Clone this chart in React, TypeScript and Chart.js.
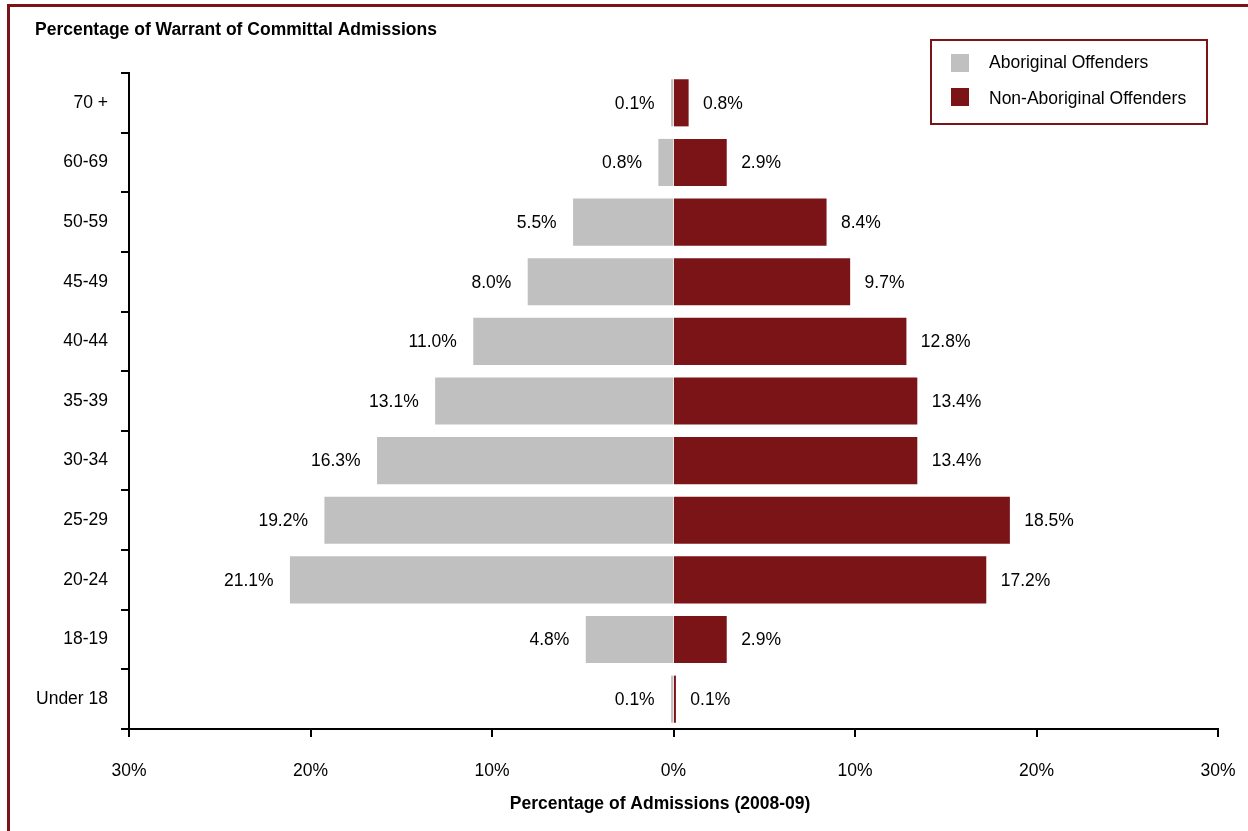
import React, { useEffect, useRef } from "react";
import { Chart, registerables } from "chart.js";

Chart.register(...registerables);

const ageGroups = ["70 +", "60-69", "50-59", "45-49", "40-44", "35-39", "30-34", "25-29", "20-24", "18-19", "Under 18"];
const aboriginal = [0.1, 0.8, 5.5, 8.0, 11.0, 13.1, 16.3, 19.2, 21.1, 4.8, 0.1];
const nonAboriginal = [0.8, 2.9, 8.4, 9.7, 12.8, 13.4, 13.4, 18.5, 17.2, 2.9, 0.1];
const xTicks = [-30, -20, -10, 0, 10, 20, 30];

const RED = "#7b1416";
const GREY = "#c0c0c0";
const FONT = "'Liberation Sans', Arial, sans-serif";
const TITLE = "Percentage of Warrant of Committal Admissions";
const X_TITLE = "Percentage of Admissions (2008-09)";

const overlayPlugin = {
  id: "overlay",
  afterDatasetsDraw(chart: any) {
    const ctx = chart.ctx;
    ctx.save();
    ctx.font = `17.5px ${FONT}`;
    ctx.fillStyle = "#000";
    ctx.textBaseline = "middle";
    chart.data.datasets.forEach((ds: any, di: number) => {
      const meta = chart.getDatasetMeta(di);
      meta.data.forEach((el: any, i: number) => {
        const v = Math.abs(ds.data[i]);
        const txt = v.toFixed(1) + "%";
        if (ds.data[i] < 0) {
          ctx.textAlign = "right";
          ctx.fillText(txt, el.x - 17, el.y + 1);
        } else {
          ctx.textAlign = "left";
          ctx.fillText(txt, el.x + 15, el.y + 1);
        }
      });
    });
    ctx.restore();
  },
  afterDraw(chart: any) {
    const ctx = chart.ctx;
    ctx.save();
    // main title
    ctx.font = `bold 17.5px ${FONT}`;
    ctx.fillStyle = "#000";
    ctx.textAlign = "left";
    ctx.textBaseline = "middle";
    ctx.fillText(TITLE, 35, 30);
    // x-axis title
    ctx.textAlign = "center";
    ctx.fillText(X_TITLE, 660, 804);
    // legend
    ctx.textAlign = "left";
    ctx.strokeStyle = RED;
    ctx.lineWidth = 2;
    ctx.strokeRect(931, 40, 276, 84);
    ctx.font = `17.5px ${FONT}`;
    const squareY = [54, 88];
    const textY = [63, 99];
    chart.data.datasets.forEach((ds: any, di: number) => {
      ctx.fillStyle = ds.backgroundColor;
      ctx.fillRect(951, squareY[di], 18, 18);
      ctx.fillStyle = "#000";
      ctx.fillText(ds.label, 989, textY[di]);
    });
    ctx.restore();
  },
};

export default function App() {
  const ref = useRef<HTMLCanvasElement>(null);
  useEffect(() => {
    if (!ref.current) return;
    const chart = new Chart(ref.current, {
      type: "bar",
      data: {
        labels: ageGroups,
        datasets: [
          {
            label: "Aboriginal Offenders",
            data: aboriginal.map((v) => -v),
            backgroundColor: GREY,
            borderWidth: 0,
            inflateAmount: 0.6,
            barPercentage: 0.77,
            categoryPercentage: 1,
          },
          {
            label: "Non-Aboriginal Offenders",
            data: nonAboriginal,
            backgroundColor: RED,
            borderWidth: 0,
            inflateAmount: 0.6,
            barPercentage: 0.77,
            categoryPercentage: 1,
          },
        ],
      },
      options: {
        indexAxis: "y",
        responsive: false,
        animation: false,
        devicePixelRatio: 1,
        layout: { padding: { top: 73, right: 30, left: 0, bottom: 0 } },
        plugins: {
          legend: { display: false },
          tooltip: { enabled: false },
          title: { display: false },
        },
        scales: {
          x: {
            type: "linear",
            stacked: true,
            min: -30,
            max: 30,
            afterBuildTicks: (s: any) => {
              s.ticks = xTicks.map((v) => ({ value: v }));
            },
            afterFit: (s: any) => {
              s.height = 102;
              s.paddingLeft = 0;
              s.paddingRight = 0;
            },
            ticks: {
              callback: (v: any) => Math.abs(Number(v)) + "%",
              font: { family: FONT, size: 17.5 },
              color: "#000",
              padding: 24,
              maxRotation: 0,
            },
            grid: {
              drawOnChartArea: false,
              drawTicks: true,
              tickLength: 8,
              color: "#000",
              lineWidth: 2,
            },
            border: { display: true, color: "#000", width: 2 },
            title: { display: false },
          },
          y: {
            type: "category",
            stacked: true,
            afterFit: (s: any) => {
              s.width = 129;
              s.paddingTop = 0;
              s.paddingBottom = 0;
            },
            ticks: {
              font: { family: FONT, size: 17.5 },
              color: "#000",
              padding: 13,
            },
            grid: {
              drawOnChartArea: false,
              drawTicks: true,
              tickLength: 8,
              color: "#000",
              lineWidth: 2,
              offset: true,
            },
            border: { display: true, color: "#000", width: 2 },
          },
        },
      },
      plugins: [overlayPlugin],
    } as any);
    return () => chart.destroy();
  }, []);

  return (
    <div
      style={{
        position: "fixed",
        left: 0,
        top: 0,
        width: 1248,
        height: 831,
        overflow: "hidden",
        background: "#fff",
      }}
    >
      <div
        style={{
          position: "absolute",
          left: 7,
          top: 4,
          width: 2000,
          height: 2000,
          borderLeft: `3px solid ${RED}`,
          borderTop: `3px solid ${RED}`,
        }}
      />
      <canvas
        ref={ref}
        width={1248}
        height={831}
        style={{ position: "absolute", left: 0, top: 0, width: 1248, height: 831, display: "block" }}
      />
    </div>
  );
}
